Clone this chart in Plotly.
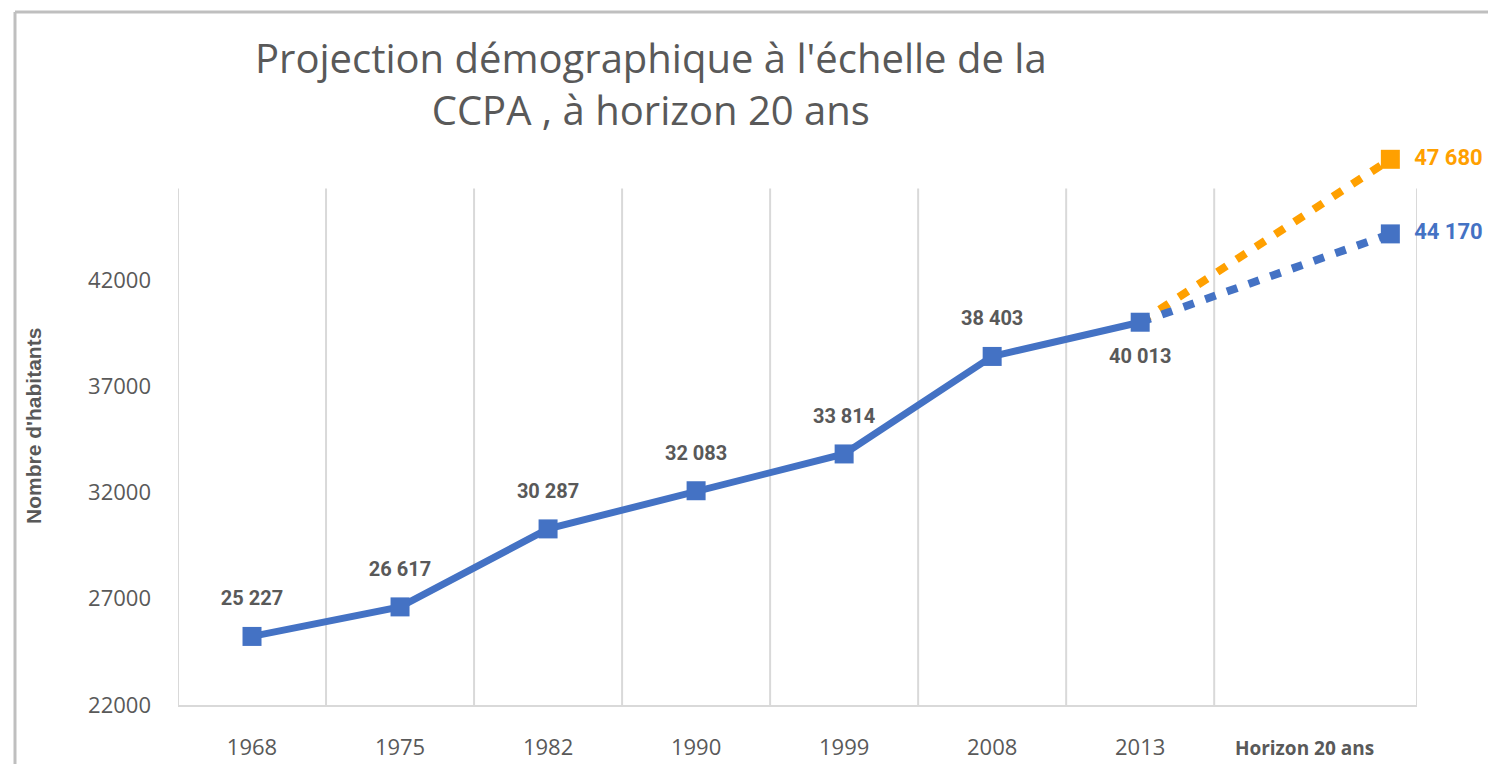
import plotly.graph_objects as go

# données
annees = ["1968", "1975", "1982", "1990", "1999", "2008", "2013"]
habitants = [25227, 26617, 30287, 32083, 33814, 38403, 40013]
horizon_label = "Horizon 20 ans"
proj_haute = 47680
proj_basse = 44170
y_ticks = [22000, 27000, 32000, 37000, 42000]

BLUE = "#4472C4"
ORANGE = "#FFA000"
GRAY = "#595959"
GRID = "#d9d9d9"
LABEL_FONT = "Liberation Sans Narrow, Roboto"

x_hist = list(range(len(annees)))
x_last = x_hist[-1]
x_hor = x_last + 1.69        # le point "horizon" est décalé vers la droite
x_hor_tick = x_last + 1.11

def fmt(v):
    return f"{v:,}".replace(",", " ")

fig = go.Figure()

# projections en pointillés
for val, col in [(proj_haute, ORANGE), (proj_basse, BLUE)]:
    fig.add_trace(go.Scatter(
        x=[x_last, x_hor], y=[habitants[-1], val], mode="lines",
        line=dict(color=col, width=8, dash="11px,12px"),
        showlegend=False, hoverinfo="skip"))
    fig.add_trace(go.Scatter(
        x=[x_hor], y=[val], mode="markers+text",
        marker=dict(symbol="square", size=19, color=col, opacity=1, line=dict(width=0)),
        text=["  " + fmt(val)], textposition="middle right",
        textfont=dict(family=LABEL_FONT, size=22, color=col, weight="bold"),
        cliponaxis=False, showlegend=False))

# série historique
fig.add_trace(go.Scatter(
    x=x_hist, y=habitants, mode="lines+markers",
    line=dict(color=BLUE, width=7),
    marker=dict(symbol="square", size=19, color=BLUE, opacity=1, line=dict(width=0)),
    cliponaxis=False, showlegend=False))

# étiquettes de valeurs (marqueurs invisibles pour l'écart)
pos = ["top center"] * (len(annees) - 1) + ["bottom center"]
fig.add_trace(go.Scatter(
    x=x_hist, y=habitants, mode="markers+text",
    marker=dict(size=40, opacity=0),
    text=[fmt(v) for v in habitants], textposition=pos,
    textfont=dict(family=LABEL_FONT, size=20, color=GRAY, weight="bold"),
    cliponaxis=False, showlegend=False, hoverinfo="skip"))

# séparateurs verticaux entre catégories
for b in [i - 0.5 for i in range(len(annees) + 1)] + [7.87]:
    fig.add_shape(type="line", xref="x", yref="y", x0=b, x1=b, y0=22000, y1=46300,
                  line=dict(color=GRID, width=2), layer="below")

# cadre gris autour de l'image
fig.add_shape(type="line", xref="paper", yref="paper",
              x0=(15 - 178) / 1239, x1=1.1, y0=(705 - 12) / 595, y1=(705 - 12) / 595,
              line=dict(color="#bfbfbf", width=3))
fig.add_shape(type="line", xref="paper", yref="paper",
              x0=(15 - 178) / 1239, x1=(15 - 178) / 1239, y0=-0.2, y1=(705 - 12) / 595,
              line=dict(color="#bfbfbf", width=3))

fig.add_annotation(text="Nombre d'habitants", textangle=-90, xref="paper", yref="paper",
                   x=(33 - 178) / 1239, y=(705 - 426) / 595, showarrow=False,
                   xanchor="center", yanchor="middle",
                   font=dict(family="Liberation Sans, Arial", size=21, color=GRAY, weight="bold"))

# titre (deux lignes centrées)
fig.add_annotation(text="Projection démographique à l'échelle de la<br>CCPA , à horizon 20 ans",
                   xref="paper", yref="paper", x=(651 - 178) / 1239, y=(705 - 84) / 595,
                   xanchor="center", yanchor="middle", showarrow=False, align="center",
                   font=dict(family="Open Sans, Noto Sans", size=40, color=GRAY))

ticktext = annees + [f"<span style='font-size:19px'><b>{horizon_label}</b></span>"]

fig.update_layout(
    width=1488, height=764,
    margin=dict(l=178, r=71, t=110, b=59),
    paper_bgcolor="white", plot_bgcolor="white",
    xaxis=dict(range=[-0.5, 7.87], tickvals=x_hist + [x_hor_tick], ticktext=ticktext,
               showgrid=False, zeroline=False, showline=True, linecolor=GRID, linewidth=2,
               ticks="", ticklabelstandoff=22, automargin=False,
               tickfont=dict(family="Open Sans, Noto Sans", size=22, color=GRAY)),
    yaxis=dict(range=[22000, 50000], tickvals=y_ticks, ticktext=[str(v) for v in y_ticks],
               showgrid=False, zeroline=False, showline=False, ticks="",
               ticklabelstandoff=26, automargin=False,
               tickfont=dict(family="Open Sans, Noto Sans", size=22, color=GRAY)),
)

# pas de marge de page autour du graphique
fig.write_html("out.html", config={"displayModeBar": False},
               post_script="document.body.style.margin='0px';")
